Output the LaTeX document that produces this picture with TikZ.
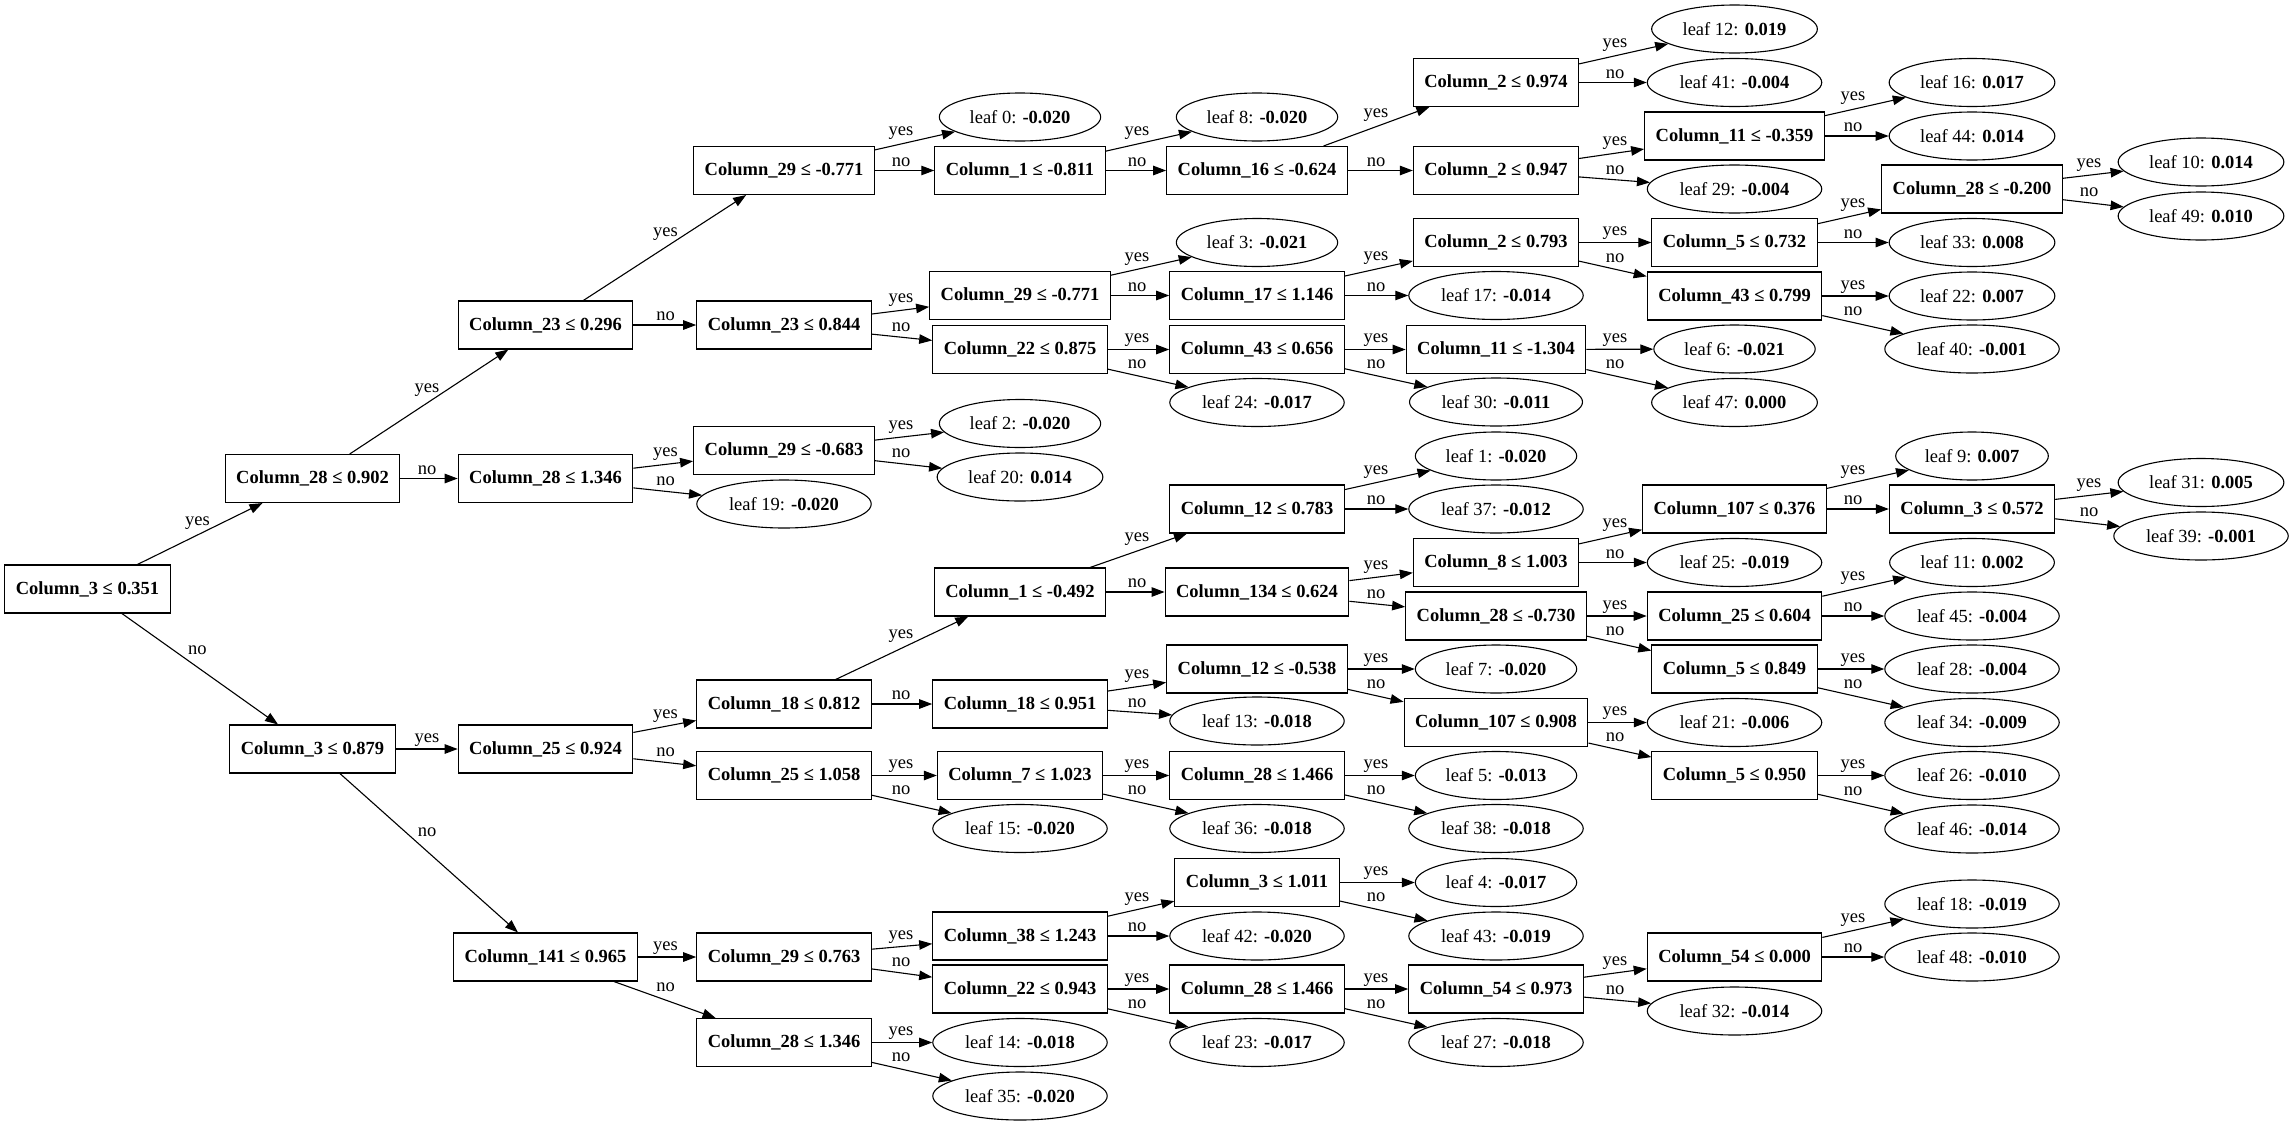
\documentclass[tikz,border=0pt]{standalone}
\usepackage{fontspec}
\setmainfont{Liberation Serif}
\usetikzlibrary{arrows.meta,shapes.geometric,calc}
\newcommand{\fs}{\fontsize{18.5pt}{22pt}\selectfont}
\newcommand{\ed}[5]{%
  \draw[arr] (#1) -- (#2);
  \path let \p1=(#1.center), \p2=(#2.center),
    \n1={(#3pt-\x1)/(\x2-\x1)},
    \n2={(\y2-\y1)/(\x2-\x1)},
    \n3={#5+(\n2<0)*abs(\n2)*12+(\n2>0)*abs(\n2)*6}
  in (#1.center) -- (#2.center) node[lbl, pos=\n1, yshift={\n3*1pt}] {#4};%
}
\newcommand{\edgeyes}[3]{\ed{#1}{#2}{#3}{yes}{7}}
\newcommand{\edgeno}[3]{\ed{#1}{#2}{#3}{no}{4.5}}
\begin{document}
\begin{tikzpicture}[x=1pt, y=-1pt, font=\fs,
  box/.style={draw, line width=1.1pt, rectangle, minimum height=48pt, inner xsep=11pt, inner ysep=0pt, font=\fs\bfseries},
  leaf/.style={draw, line width=1.1pt, ellipse, minimum height=48pt, inner xsep=6.7pt, inner ysep=0pt, font=\fs},
  arr/.style={line width=1.1pt, -{Triangle[length=13pt,width=9.5pt]}},
  lbl/.style={anchor=base, inner sep=0pt, font=\fs}]
\useasboundingbox (0,0) rectangle (2293,1125);
% rank 0
\node[box] (n0) at (87.5,589) {Column\_3 ≤ 0.351};
% rank 1
\node[box] (n1) at (312.5,478.5) {Column\_28 ≤ 0.902};
\node[box] (n2) at (312.5,749) {Column\_3 ≤ 0.879};
% rank 2
\node[box] (n3) at (545.5,325) {Column\_23 ≤ 0.296};
\node[box] (n4) at (545.5,478.5) {Column\_28 ≤ 1.346};
\node[box] (n5) at (545.5,749) {Column\_25 ≤ 0.924};
\node[box] (n6) at (545.5,957) {Column\_141 ≤ 0.965};
% rank 3
\node[box] (n7) at (784,170.5) {Column\_29 ≤ -0.771};
\node[box] (n8) at (784,325) {Column\_23 ≤ 0.844};
\node[box] (n9) at (784,450.5) {Column\_29 ≤ -0.683};
\node[leaf] (l19) at (784,504) {leaf 19: \textbf{-0.020}};
\node[box] (n10) at (784,704) {Column\_18 ≤ 0.812};
\node[box] (n11) at (784,775.5) {Column\_25 ≤ 1.058};
\node[box] (n12) at (784,957) {Column\_29 ≤ 0.763};
\node[box] (n13) at (784,1042.5) {Column\_28 ≤ 1.346};
% rank 4
\node[leaf] (l0) at (1020,117) {leaf 0: \textbf{-0.020}};
\node[box] (n14) at (1020,170.5) {Column\_1 ≤ -0.811};
\node[box] (n15) at (1020,295.5) {Column\_29 ≤ -0.771};
\node[box] (n16) at (1020,349.5) {Column\_22 ≤ 0.875};
\node[leaf] (l2) at (1020,423.5) {leaf 2: \textbf{-0.020}};
\node[leaf] (l20) at (1020,477) {leaf 20: \textbf{0.014}};
\node[box] (n17) at (1020,592) {Column\_1 ≤ -0.492};
\node[box] (n18) at (1020,704) {Column\_18 ≤ 0.951};
\node[box] (n19) at (1020,775.5) {Column\_7 ≤ 1.023};
\node[leaf] (l15) at (1020,828.5) {leaf 15: \textbf{-0.020}};
\node[box] (n20) at (1020,936) {Column\_38 ≤ 1.243};
\node[box] (n21) at (1020,989) {Column\_22 ≤ 0.943};
\node[leaf] (l14) at (1020,1042.5) {leaf 14: \textbf{-0.018}};
\node[leaf] (l35) at (1020,1096) {leaf 35: \textbf{-0.020}};
% rank 5
\node[leaf] (l8) at (1257,117) {leaf 8: \textbf{-0.020}};
\node[box] (n22) at (1257,170.5) {Column\_16 ≤ -0.624};
\node[leaf] (l3) at (1257,242.5) {leaf 3: \textbf{-0.021}};
\node[box] (n23) at (1257,295.5) {Column\_17 ≤ 1.146};
\node[box] (n24) at (1257,349.5) {Column\_43 ≤ 0.656};
\node[leaf] (l24) at (1257,402.5) {leaf 24: \textbf{-0.017}};
\node[box] (n25) at (1257,509) {Column\_12 ≤ 0.783};
\node[box] (n26) at (1257,592) {Column\_134 ≤ 0.624};
\node[box] (n27) at (1257,669) {Column\_12 ≤ -0.538};
\node[leaf] (l13) at (1257,721) {leaf 13: \textbf{-0.018}};
\node[box] (n28) at (1257,775.5) {Column\_28 ≤ 1.466};
\node[leaf] (l36) at (1257,828.5) {leaf 36: \textbf{-0.018}};
\node[box] (n29) at (1257,882.5) {Column\_3 ≤ 1.011};
\node[leaf] (l42) at (1257,936) {leaf 42: \textbf{-0.020}};
\node[box] (n30) at (1257,989) {Column\_28 ≤ 1.466};
\node[leaf] (l23) at (1257,1042.5) {leaf 23: \textbf{-0.017}};
% rank 6
\node[box] (n31) at (1496,82.5) {Column\_2 ≤ 0.974};
\node[box] (n32) at (1496,170.5) {Column\_2 ≤ 0.947};
\node[box] (n33) at (1496,242.5) {Column\_2 ≤ 0.793};
\node[leaf] (l17) at (1496,295.5) {leaf 17: \textbf{-0.014}};
\node[box] (n34) at (1496,349.5) {Column\_11 ≤ -1.304};
\node[leaf] (l30) at (1496,402) {leaf 30: \textbf{-0.011}};
\node[leaf] (l1) at (1496,456) {leaf 1: \textbf{-0.020}};
\node[leaf] (l37) at (1496,509) {leaf 37: \textbf{-0.012}};
\node[box] (n35) at (1496,562.5) {Column\_8 ≤ 1.003};
\node[box] (n36) at (1496,616) {Column\_28 ≤ -0.730};
\node[leaf] (l7) at (1496,669) {leaf 7: \textbf{-0.020}};
\node[box] (n37) at (1496,722.5) {Column\_107 ≤ 0.908};
\node[leaf] (l5) at (1496,775.5) {leaf 5: \textbf{-0.013}};
\node[leaf] (l38) at (1496,828.5) {leaf 38: \textbf{-0.018}};
\node[leaf] (l4) at (1496,882.5) {leaf 4: \textbf{-0.017}};
\node[leaf] (l43) at (1496,936) {leaf 43: \textbf{-0.019}};
\node[box] (n38) at (1496,989) {Column\_54 ≤ 0.973};
\node[leaf] (l27) at (1496,1042.5) {leaf 27: \textbf{-0.018}};
% rank 7
\node[leaf] (l12) at (1734.5,29) {leaf 12: \textbf{0.019}};
\node[leaf] (l41) at (1734.5,82.5) {leaf 41: \textbf{-0.004}};
\node[box] (n39) at (1734.5,136) {Column\_11 ≤ -0.359};
\node[leaf] (l29) at (1734.5,189) {leaf 29: \textbf{-0.004}};
\node[box] (n40) at (1734.5,242.5) {Column\_5 ≤ 0.732};
\node[box] (n41) at (1734.5,296) {Column\_43 ≤ 0.799};
\node[leaf] (l6) at (1734.5,349) {leaf 6: \textbf{-0.021}};
\node[leaf] (l47) at (1734.5,402.5) {leaf 47: \textbf{0.000}};
\node[box] (n42) at (1734.5,509) {Column\_107 ≤ 0.376};
\node[leaf] (l25) at (1734.5,562.5) {leaf 25: \textbf{-0.019}};
\node[box] (n43) at (1734.5,616) {Column\_25 ≤ 0.604};
\node[box] (n44) at (1734.5,669) {Column\_5 ≤ 0.849};
\node[leaf] (l21) at (1734.5,722.5) {leaf 21: \textbf{-0.006}};
\node[box] (n45) at (1734.5,775.5) {Column\_5 ≤ 0.950};
\node[box] (n46) at (1734.5,957) {Column\_54 ≤ 0.000};
\node[leaf] (l32) at (1734.5,1011) {leaf 32: \textbf{-0.014}};
% rank 8
\node[leaf] (l16) at (1972,82.5) {leaf 16: \textbf{0.017}};
\node[leaf] (l44) at (1972,136) {leaf 44: \textbf{0.014}};
\node[box] (n47) at (1972,189) {Column\_28 ≤ -0.200};
\node[leaf] (l33) at (1972,242.5) {leaf 33: \textbf{0.008}};
\node[leaf] (l22) at (1972,296) {leaf 22: \textbf{0.007}};
\node[leaf] (l40) at (1972,349) {leaf 40: \textbf{-0.001}};
\node[leaf] (l9) at (1972,456) {leaf 9: \textbf{0.007}};
\node[box] (n48) at (1972,509) {Column\_3 ≤ 0.572};
\node[leaf] (l11) at (1972,562.5) {leaf 11: \textbf{0.002}};
\node[leaf] (l45) at (1972,616) {leaf 45: \textbf{-0.004}};
\node[leaf] (l28) at (1972,669) {leaf 28: \textbf{-0.004}};
\node[leaf] (l34) at (1972,722.5) {leaf 34: \textbf{-0.009}};
\node[leaf] (l26) at (1972,775.5) {leaf 26: \textbf{-0.010}};
\node[leaf] (l46) at (1972,829) {leaf 46: \textbf{-0.014}};
\node[leaf] (l18) at (1972,904) {leaf 18: \textbf{-0.019}};
\node[leaf] (l48) at (1972,957) {leaf 48: \textbf{-0.010}};
% rank 9
\node[leaf] (l10) at (2201,162) {leaf 10: \textbf{0.014}};
\node[leaf] (l49) at (2201,216) {leaf 49: \textbf{0.010}};
\node[leaf] (l31) at (2201,482.5) {leaf 31: \textbf{0.005}};
\node[leaf] (l39) at (2201,536) {leaf 39: \textbf{-0.001}};
% edges
\edgeyes{n0}{n1}{197.5} \edgeno{n0}{n2}{197.5}
\edgeyes{n1}{n3}{427} \edgeno{n1}{n4}{427}
\edgeyes{n2}{n5}{427} \edgeno{n2}{n6}{427}
\edgeyes{n3}{n7}{665.5} \edgeno{n3}{n8}{665.5}
\edgeyes{n4}{n9}{665.5} \edgeno{n4}{l19}{665.5}
\edgeyes{n5}{n10}{665.5} \edgeno{n5}{n11}{665.5}
\edgeyes{n6}{n12}{665.5} \edgeno{n6}{n13}{665.5}
\edgeyes{n7}{l0}{901} \edgeno{n7}{n14}{901}
\edgeyes{n8}{n15}{901} \edgeno{n8}{n16}{901}
\edgeyes{n9}{l2}{901} \edgeno{n9}{l20}{901}
\edgeyes{n10}{n17}{901} \edgeno{n10}{n18}{901}
\edgeyes{n11}{n19}{901} \edgeno{n11}{l15}{901}
\edgeyes{n12}{n20}{901} \edgeno{n12}{n21}{901}
\edgeyes{n13}{l14}{901} \edgeno{n13}{l35}{901}
\edgeyes{n14}{l8}{1137} \edgeno{n14}{n22}{1137}
\edgeyes{n15}{l3}{1137} \edgeno{n15}{n23}{1137}
\edgeyes{n16}{n24}{1137} \edgeno{n16}{l24}{1137}
\edgeyes{n17}{n25}{1137} \edgeno{n17}{n26}{1137}
\edgeyes{n18}{n27}{1137} \edgeno{n18}{l13}{1137}
\edgeyes{n19}{n28}{1137} \edgeno{n19}{l36}{1137}
\edgeyes{n20}{n29}{1137} \edgeno{n20}{l42}{1137}
\edgeyes{n21}{n30}{1137} \edgeno{n21}{l23}{1137}
\edgeyes{n22}{n31}{1376} \edgeno{n22}{n32}{1376}
\edgeyes{n23}{n33}{1376} \edgeno{n23}{l17}{1376}
\edgeyes{n24}{n34}{1376} \edgeno{n24}{l30}{1376}
\edgeyes{n25}{l1}{1376} \edgeno{n25}{l37}{1376}
\edgeyes{n26}{n35}{1376} \edgeno{n26}{n36}{1376}
\edgeyes{n27}{l7}{1376} \edgeno{n27}{n37}{1376}
\edgeyes{n28}{l5}{1376} \edgeno{n28}{l38}{1376}
\edgeyes{n29}{l4}{1376} \edgeno{n29}{l43}{1376}
\edgeyes{n30}{n38}{1376} \edgeno{n30}{l27}{1376}
\edgeyes{n31}{l12}{1615} \edgeno{n31}{l41}{1615}
\edgeyes{n32}{n39}{1615} \edgeno{n32}{l29}{1615}
\edgeyes{n33}{n40}{1615} \edgeno{n33}{n41}{1615}
\edgeyes{n34}{l6}{1615} \edgeno{n34}{l47}{1615}
\edgeyes{n35}{n42}{1615} \edgeno{n35}{l25}{1615}
\edgeyes{n36}{n43}{1615} \edgeno{n36}{n44}{1615}
\edgeyes{n37}{l21}{1615} \edgeno{n37}{n45}{1615}
\edgeyes{n38}{n46}{1615} \edgeno{n38}{l32}{1615}
\edgeyes{n39}{l16}{1853} \edgeno{n39}{l44}{1853}
\edgeyes{n40}{n47}{1853} \edgeno{n40}{l33}{1853}
\edgeyes{n41}{l22}{1853} \edgeno{n41}{l40}{1853}
\edgeyes{n42}{l9}{1853} \edgeno{n42}{n48}{1853}
\edgeyes{n43}{l11}{1853} \edgeno{n43}{l45}{1853}
\edgeyes{n44}{l28}{1853} \edgeno{n44}{l34}{1853}
\edgeyes{n45}{l26}{1853} \edgeno{n45}{l46}{1853}
\edgeyes{n46}{l18}{1853} \edgeno{n46}{l48}{1853}
\edgeyes{n47}{l10}{2089} \edgeno{n47}{l49}{2089}
\edgeyes{n48}{l31}{2089} \edgeno{n48}{l39}{2089}
\end{tikzpicture}
\end{document}
